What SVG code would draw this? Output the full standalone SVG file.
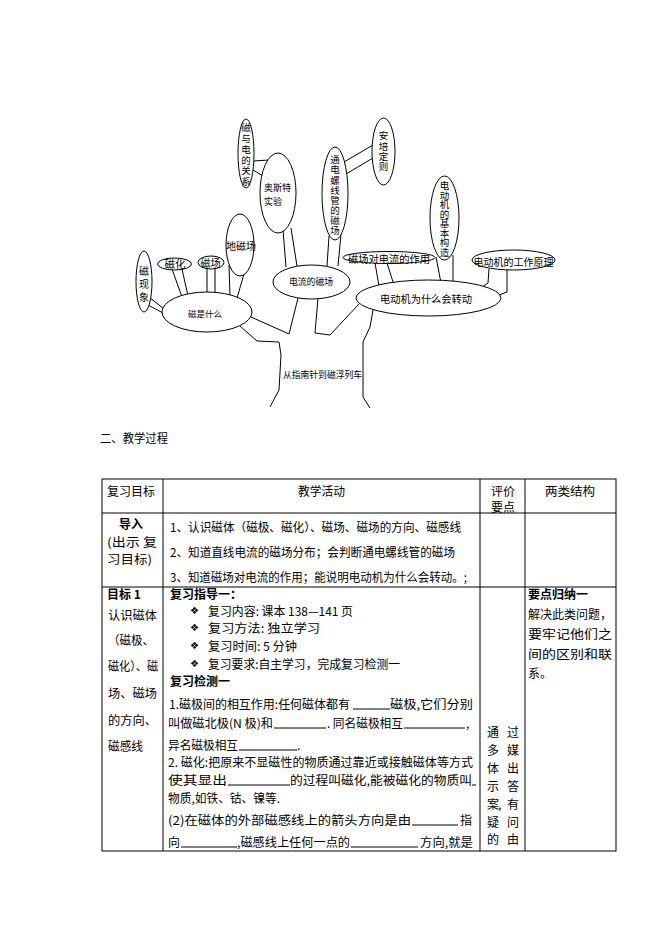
<svg xmlns="http://www.w3.org/2000/svg" width="661" height="935" viewBox="0 0 661 935">
<style>
.e{fill:#fff;stroke:#000;stroke-width:1}
.c{fill:none;stroke:#000;stroke-width:1}
.t{font-family:"Noto Sans CJK SC","Noto Sans",sans-serif;fill:#000}
.tt{font-size:10px;text-anchor:middle;dominant-baseline:central}
.v{font-size:9.5px;text-anchor:middle;writing-mode:vertical-rl}
.tb{font-size:12px;dominant-baseline:central}
.b{font-weight:bold}
.ln{stroke:#000;stroke-width:1}
.bl{font-family:"DejaVu Sans",sans-serif;font-size:10px;dominant-baseline:central}
</style>
<rect width="661" height="935" fill="#fff"/>

<g id="connectors" class="c">
  <line x1="253" y1="161" x2="269" y2="160"/>
  <line x1="253" y1="170" x2="263" y2="176"/>
  <line x1="344" y1="162" x2="373" y2="145"/>
  <line x1="346" y1="174" x2="373" y2="158"/>
  <line x1="283" y1="230" x2="286" y2="267"/>
  <line x1="291" y1="228" x2="297" y2="266"/>
  <line x1="329" y1="236" x2="327" y2="266"/>
  <line x1="341" y1="234" x2="338" y2="266"/>
  <line x1="149" y1="297" x2="164" y2="309"/>
  <line x1="148" y1="305" x2="163" y2="313"/>
  <line x1="172" y1="269" x2="182" y2="297"/>
  <line x1="182" y1="269" x2="188" y2="296"/>
  <line x1="207" y1="268" x2="207" y2="293"/>
  <line x1="215" y1="268" x2="215" y2="293"/>
  <line x1="229" y1="265" x2="230" y2="297"/>
  <line x1="244" y1="274" x2="237" y2="298"/>
  <line x1="375" y1="263" x2="379" y2="286"/>
  <line x1="387" y1="263" x2="394" y2="285"/>
  <line x1="436" y1="257" x2="441" y2="283"/>
  <line x1="453" y1="255" x2="453" y2="283"/>
  <polyline points="489,269 488,283 481,288"/>
  <polyline points="507,269 507,292 499,295"/>
  <polyline points="251,317 289,334 298,298"/>
  <polyline points="318,298 315,333 330,335 359,304"/>
  <polyline points="240,326 257,341 279,342 281,355 279,390 270,407"/>
  <polyline points="373,310 370,327 363,342 363,397 370,408"/>
</g>

<g id="n-cidianguanxi">
  <ellipse class="e" cx="246" cy="153.5" rx="8" ry="34.5"/>
  <text class="t v" x="246" y="154.5" textLength="64" lengthAdjust="spacing">磁与电的关系</text>
</g>
<g id="n-aosite">
  <ellipse class="e" cx="278" cy="193" rx="18" ry="40"/>
  <text class="t" style="font-size:9px;dominant-baseline:central"><tspan x="264" y="187">奥斯特</tspan><tspan x="264" y="201">实验</tspan></text>
</g>
<g id="n-tongdian">
  <ellipse class="e" cx="335" cy="193.5" rx="13" ry="46.5"/>
  <text class="t v" x="335" y="195" textLength="80" lengthAdjust="spacing">通电螺线管的磁场</text>
</g>
<g id="n-anpei">
  <ellipse class="e" cx="383.5" cy="151.5" rx="11.5" ry="33.5"/>
  <text class="t v" x="383.5" y="151" textLength="40" lengthAdjust="spacing">安培定则</text>
</g>
<g id="n-gouzao">
  <ellipse class="e" cx="444.5" cy="218" rx="14.5" ry="42"/>
  <text class="t v" x="444.5" y="219" textLength="76" lengthAdjust="spacing">电动机的基本构造</text>
</g>
<g id="n-yuanli">
  <ellipse class="e" cx="513.5" cy="260" rx="41.5" ry="10"/>
  <text class="t tt" x="513.5" y="261" textLength="80" lengthAdjust="spacingAndGlyphs">电动机的工作原理</text>
</g>
<g id="n-zuoyong">
  <ellipse class="e" cx="389" cy="257.5" rx="46" ry="6"/>
  <text class="t tt" x="389" y="258" textLength="82" lengthAdjust="spacingAndGlyphs">磁场对电流的作用</text>
</g>
<g id="n-zhuandong">
  <ellipse class="e" cx="428.5" cy="298" rx="72.5" ry="18"/>
  <text class="t tt" x="426" y="298" textLength="92" lengthAdjust="spacingAndGlyphs">电动机为什么会转动</text>
</g>
<g id="n-dianliu">
  <ellipse class="e" cx="311.5" cy="282" rx="38.5" ry="17"/>
  <text class="t tt" style="font-size:9px" x="311" y="281" textLength="44" lengthAdjust="spacingAndGlyphs">电流的磁场</text>
</g>
<g id="n-cishi">
  <ellipse class="e" cx="207" cy="312" rx="45" ry="20"/>
  <text class="t tt" style="font-size:8.5px" x="205" y="313" textLength="34" lengthAdjust="spacingAndGlyphs">磁是什么</text>
</g>
<g id="n-cixianxiang">
  <ellipse class="e" cx="144" cy="281.5" rx="8" ry="30.5"/>
  <text class="t v" style="font-size:10px" x="144" y="284" textLength="36" lengthAdjust="spacing">磁现象</text>
</g>
<g id="n-cihua">
  <ellipse class="e" cx="174.5" cy="264" rx="17" ry="6"/>
  <text class="t tt" style="font-size:10.5px" x="175" y="263.5">磁化</text>
</g>
<g id="n-cichang">
  <ellipse class="e" cx="211" cy="262.5" rx="13" ry="6.5"/>
  <text class="t tt" x="210.5" y="262.5">磁场</text>
</g>
<g id="n-dicichang">
  <ellipse class="e" cx="240" cy="245" rx="14" ry="31"/>
  <text class="t tt" x="241" y="245" textLength="30" lengthAdjust="spacingAndGlyphs">地磁场</text>
</g>
<g id="n-trunk">
  <text class="t" style="font-size:9px;dominant-baseline:central" x="283" y="374" textLength="79" lengthAdjust="spacingAndGlyphs">从指南针到磁浮列车</text>
</g>

<g id="heading">
  <text class="t tb" x="100" y="437" textLength="68" lengthAdjust="spacingAndGlyphs">二、教学过程</text>
</g>

<g id="table">
  <rect x="102" y="479" width="514" height="372" fill="none" class="ln"/>
  <line class="ln" x1="102" y1="513" x2="616" y2="513"/>
  <line class="ln" x1="102" y1="587" x2="616" y2="587"/>
  <line class="ln" x1="163" y1="479" x2="163" y2="851"/>
  <line class="ln" x1="480" y1="479" x2="480" y2="851"/>
  <line class="ln" x1="525" y1="479" x2="525" y2="851"/>

  <text class="t tb" x="107" y="490" textLength="48" lengthAdjust="spacingAndGlyphs">复习目标</text>
  <text class="t tb" x="298" y="490" textLength="47" lengthAdjust="spacingAndGlyphs">教学活动</text>
  <text class="t tb" x="491" y="490">评价</text>
  <text class="t tb" x="491" y="506">要点</text>
  <text class="t tb" x="545" y="490" textLength="50" lengthAdjust="spacingAndGlyphs">两类结构</text>

  <text class="t tb b" x="119" y="523">导入</text>
  <text class="t tb" x="107" y="541" textLength="50" lengthAdjust="spacingAndGlyphs">(出示 复</text>
  <text class="t tb" x="107" y="558" textLength="45" lengthAdjust="spacingAndGlyphs">习目标)</text>
  <text class="t tb" x="170" y="526" textLength="291" lengthAdjust="spacingAndGlyphs">1、认识磁体（磁极、磁化）、磁场、磁场的方向、磁感线</text>
  <text class="t tb" x="170" y="551" textLength="285" lengthAdjust="spacingAndGlyphs">2、知道直线电流的磁场分布；会判断通电螺线管的磁场</text>
  <text class="t tb" x="170" y="576" textLength="297" lengthAdjust="spacingAndGlyphs">3、知道磁场对电流的作用；能说明电动机为什么会转动。;</text>

  <text class="t tb b" x="107" y="593">目标 1</text>
  <text class="t tb" x="108" y="614" textLength="49" lengthAdjust="spacingAndGlyphs">认识磁体</text>
  <text class="t tb" x="108" y="639" textLength="46" lengthAdjust="spacingAndGlyphs">（磁极、</text>
  <text class="t tb" x="108" y="665" textLength="50" lengthAdjust="spacingAndGlyphs">磁化）、磁</text>
  <text class="t tb" x="108" y="692" textLength="49" lengthAdjust="spacingAndGlyphs">场、磁场</text>
  <text class="t tb" x="108" y="719" textLength="49" lengthAdjust="spacingAndGlyphs">的方向、</text>
  <text class="t tb" x="108" y="745" textLength="35" lengthAdjust="spacingAndGlyphs">磁感线</text>

  <text class="t tb b" x="170" y="593">复习指导一：</text>
  <text class="bl" x="190" y="610">❖</text>
  <text class="t tb" x="208" y="610" textLength="145" lengthAdjust="spacingAndGlyphs">复习内容: 课本 138—141 页</text>
  <text class="bl" x="190" y="627">❖</text>
  <text class="t tb" x="208" y="627" textLength="112" lengthAdjust="spacingAndGlyphs">复习方法: 独立学习</text>
  <text class="bl" x="190" y="645">❖</text>
  <text class="t tb" x="208" y="645" textLength="89" lengthAdjust="spacingAndGlyphs">复习时间: 5 分钟</text>
  <text class="bl" x="190" y="663">❖</text>
  <text class="t tb" x="208" y="663" textLength="192" lengthAdjust="spacingAndGlyphs">复习要求:自主学习，完成复习检测一</text>
  <text class="t tb b" x="170" y="680">复习检测一</text>

  <text class="t tb" x="169" y="703" textLength="181" lengthAdjust="spacingAndGlyphs">1.磁极间的相互作用:任何磁体都有</text>
  <line class="ln" x1="353" y1="709" x2="390" y2="709"/>
  <text class="t tb" x="390" y="703" textLength="83" lengthAdjust="spacingAndGlyphs">磁极,它们分别</text>

  <text class="t tb" x="168" y="722" textLength="105" lengthAdjust="spacingAndGlyphs">叫做磁北极(N 极)和</text>
  <line class="ln" x1="274" y1="728" x2="326" y2="728"/>
  <text class="t tb" x="327" y="722" textLength="76" lengthAdjust="spacingAndGlyphs">. 同名磁极相互</text>
  <line class="ln" x1="404" y1="728" x2="465" y2="728"/>
  <text class="t tb" x="466" y="722">,</text>

  <text class="t tb" x="168" y="744" textLength="70" lengthAdjust="spacingAndGlyphs">异名磁极相互</text>
  <line class="ln" x1="239" y1="750" x2="297" y2="750"/>
  <text class="t tb" x="297" y="744">.</text>

  <text class="t tb" x="168" y="761" textLength="305" lengthAdjust="spacingAndGlyphs">2. 磁化:把原来不显磁性的物质通过靠近或接触磁体等方式</text>

  <text class="t tb" x="168" y="779" textLength="59" lengthAdjust="spacingAndGlyphs">使其显出</text>
  <line class="ln" x1="228" y1="785" x2="290" y2="785"/>
  <text class="t tb" x="290" y="779" textLength="182" lengthAdjust="spacingAndGlyphs">的过程叫磁化,能被磁化的物质叫</text>
  <line class="ln" x1="472" y1="785" x2="476" y2="785"/>

  <text class="t tb" x="168" y="797" textLength="112" lengthAdjust="spacingAndGlyphs">物质,如铁、钴、镍等.</text>

  <text class="t tb" x="168" y="819" textLength="243" lengthAdjust="spacingAndGlyphs">(2)在磁体的外部磁感线上的箭头方向是由</text>
  <line class="ln" x1="412" y1="825" x2="458" y2="825"/>
  <text class="t tb" x="460" y="819">指</text>

  <text class="t tb" x="168" y="841">向</text>
  <line class="ln" x1="181" y1="847" x2="237" y2="847"/>
  <text class="t tb" x="237" y="841" textLength="113" lengthAdjust="spacingAndGlyphs">,磁感线上任何一点的</text>
  <line class="ln" x1="351" y1="847" x2="418" y2="847"/>
  <text class="t tb" x="420" y="841" textLength="53" lengthAdjust="spacingAndGlyphs">方向,就是</text>

  <text class="t tb">
    <tspan x="487" y="731">通</tspan><tspan x="507" y="731">过</tspan>
    <tspan x="487" y="749">多</tspan><tspan x="507" y="749">媒</tspan>
    <tspan x="487" y="767">体</tspan><tspan x="507" y="767">出</tspan>
    <tspan x="487" y="785">示</tspan><tspan x="507" y="785">答</tspan>
    <tspan x="487" y="803">案</tspan><tspan x="498" y="803">,</tspan><tspan x="507" y="803">有</tspan>
    <tspan x="487" y="821">疑</tspan><tspan x="507" y="821">问</tspan>
    <tspan x="487" y="838">的</tspan><tspan x="507" y="838">由</tspan>
  </text>

  <text class="t tb b" x="528" y="593">要点归纳一</text>
  <text class="t tb" x="528" y="613" textLength="84" lengthAdjust="spacingAndGlyphs">解决此类问题，</text>
  <text class="t tb" x="528" y="633" textLength="84" lengthAdjust="spacingAndGlyphs">要牢记他们之</text>
  <text class="t tb" x="528" y="653" textLength="84" lengthAdjust="spacingAndGlyphs">间的区别和联</text>
  <text class="t tb" x="528" y="672">系。</text>
</g>
</svg>
